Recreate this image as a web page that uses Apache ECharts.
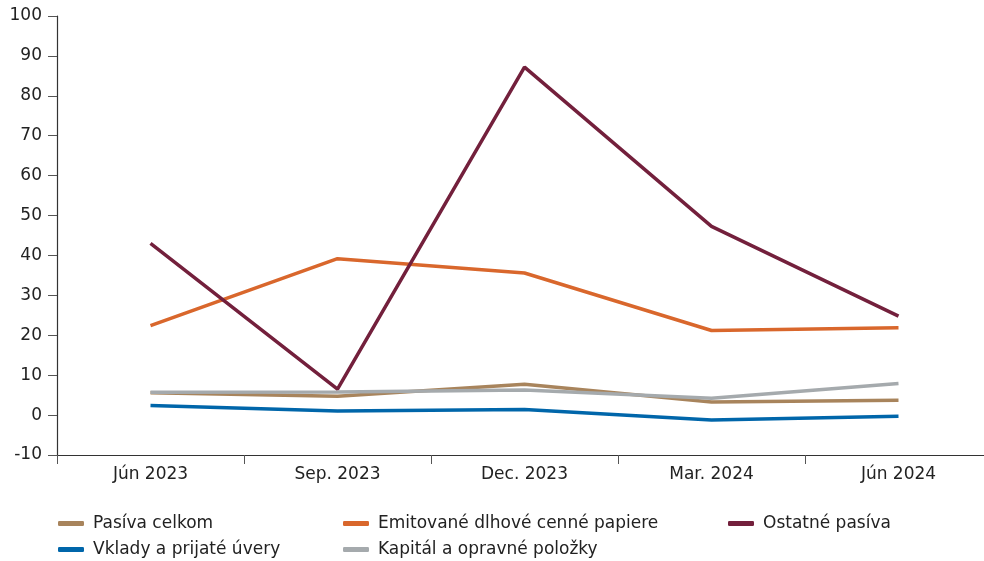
<!DOCTYPE html>
<html>
<head>
<meta charset="utf-8">
<script src="https://cdn.jsdelivr.net/npm/echarts@6/dist/echarts.min.js"></script>
<style>
  html, body { margin: 0; padding: 0; background: #fff; overflow: hidden; }
  /* the plot runs a few px past the right edge of the picture */
  #chart { width: 992px; height: 561px; }
</style>
</head>
<body>
<div id="chart"></div>
<script>
const categories = ["Jún 2023", "Sep. 2023", "Dec. 2023", "Mar. 2024", "Jún 2024"];
const pasivaCelkom = [5.6, 4.7, 7.7, 3.3, 3.7];
const emitovane = [22.4, 39.2, 35.6, 21.2, 21.9];
const ostatne = [43, 6.5, 87.2, 47.3, 24.8];
const vklady = [2.4, 1.0, 1.4, -1.2, -0.3];
const kapital = [5.7, 5.8, 6.3, 4.2, 7.9];
const yTicks = [-10, 0, 10, 20, 30, 40, 50, 60, 70, 80, 90, 100];

const font = "'DejaVu Sans', sans-serif";
const colors = {
  pasiva: "#a8845c",
  emit: "#d9672c",
  ostat: "#73203c",
  vklady: "#0066aa",
  kapital: "#a5aaad",
};

function line(name, data, color, z) {
  return {
    name: name,
    type: "line",
    data: data,
    symbol: "none",
    z: z,
    lineStyle: { width: 3.5, color: color },
    itemStyle: { color: color },
  };
}

// one legend per entry so the 3-column layout can be placed by hand
function legend(name, left, top) {
  return {
    left: left,
    top: top,
    padding: 0,
    data: [name],
    icon: "roundRect",
    itemWidth: 26,
    itemHeight: 5,
    textStyle: {
      fontFamily: font,
      fontSize: 17,
      color: "#222",
      padding: [0, 0, 0, 4],
    },
  };
}

const chart = echarts.init(document.getElementById("chart"));
chart.setOption({
  animation: false,
  grid: { left: 57, top: 16, right: 0, bottom: 106 },
  legend: [
    legend("Pasíva celkom", 58, 515),
    legend("Vklady a prijaté úvery", 58, 541),
    legend("Emitované dlhové cenné papiere", 343, 515),
    legend("Kapitál a opravné položky", 343, 541),
    legend("Ostatné pasíva", 728, 515),
  ],
  xAxis: {
    type: "category",
    data: categories,
    boundaryGap: true,
    axisLine: { onZero: false, lineStyle: { color: "#333", width: 1.2 } },
    axisTick: { show: true, length: 9, lineStyle: { color: "#555" } },
    axisLabel: { fontFamily: font, fontSize: 17, color: "#222", margin: 11 },
  },
  yAxis: {
    type: "value",
    min: yTicks[0],
    max: yTicks[yTicks.length - 1],
    interval: 10,
    splitLine: { show: false },
    axisLine: { show: true, lineStyle: { color: "#333", width: 1.2 } },
    axisTick: { show: true, length: 9, lineStyle: { color: "#555" } },
    axisLabel: { fontFamily: font, fontSize: 17, color: "#222", margin: 15 },
  },
  series: [
    line("Pasíva celkom", pasivaCelkom, colors.pasiva, 2),
    line("Emitované dlhové cenné papiere", emitovane, colors.emit, 2),
    line("Ostatné pasíva", ostatne, colors.ostat, 4),
    line("Vklady a prijaté úvery", vklady, colors.vklady, 2),
    line("Kapitál a opravné položky", kapital, colors.kapital, 3),
  ],
});
</script>
</body>
</html>
